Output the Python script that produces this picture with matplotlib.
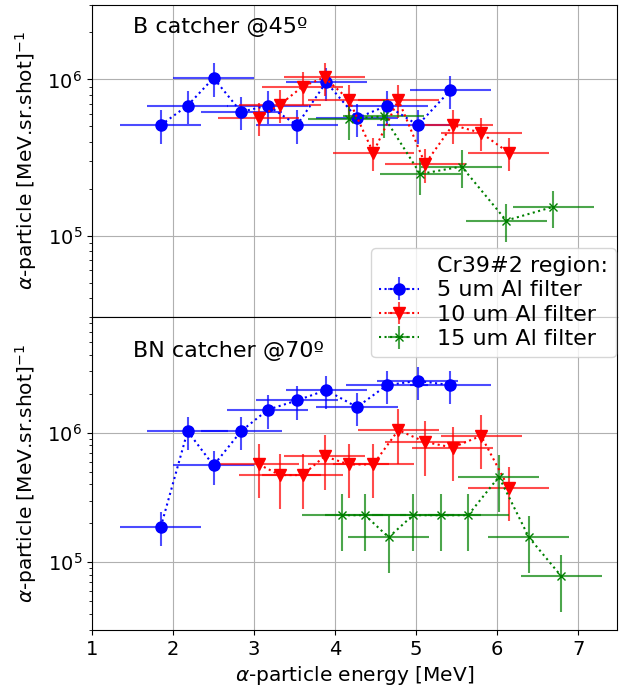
import matplotlib
matplotlib.use("Agg")
import matplotlib.pyplot as plt
import numpy as np

# energies [MeV]
blue_x = [1.85, 2.18, 2.50, 2.84, 3.17, 3.53, 3.89, 4.27, 4.64, 5.02, 5.42]
red_x = [3.06, 3.32, 3.60, 3.87, 4.17, 4.47, 4.78, 5.11, 5.45, 5.80, 6.14]
top_green_x = [4.17, 4.60, 5.05, 5.56, 6.11, 6.69]
bot_green_x = [4.09, 4.37, 4.66, 4.96, 5.30, 5.64, 6.02, 6.39, 6.79]

# B catcher @45
top_blue_y = [5.1e5, 6.8e5, 1.02e6, 6.2e5, 6.8e5, 5.1e5, 9.6e5, 5.65e5, 6.8e5, 5.1e5, 8.5e5]
top_red_y = [5.7e5, 6.9e5, 9.0e5, 1.03e6, 7.4e5, 3.4e5, 7.4e5, 2.88e5, 5.1e5, 4.55e5, 3.4e5]
top_green_y = [5.6e5, 5.8e5, 2.48e5, 2.77e5, 1.25e5, 1.53e5]

# BN catcher @70
bot_blue_y = [1.88e5, 1.03e6, 5.6e5, 1.03e6, 1.51e6, 1.78e6, 2.14e6, 1.58e6, 2.34e6, 2.52e6, 2.34e6]
bot_red_y = [5.7e5, 4.72e5, 4.72e5, 6.6e5, 5.7e5, 5.7e5, 1.05e6, 8.5e5, 7.7e5, 9.5e5, 3.77e5]
bot_green_y = [2.31e5, 2.31e5, 1.56e5, 2.31e5, 2.31e5, 2.31e5, 4.58e5, 1.56e5, 7.8e4]

# half bin width and relative errors
x_halfwidth = 0.5
top_rel_err = {"blue": 0.24, "red": 0.24, "green": 0.27}
bot_rel_err = {"blue": 0.29, "red": 0.45, "green": 0.47}

labels = ["5 um Al filter", "10 um Al filter", "15 um Al filter"]
styles = {"blue": dict(marker="o", ms=8), "red": dict(marker="v", ms=8), "green": dict(marker="x", ms=6)}

plt.rcParams["font.size"] = 14

fig, (ax1, ax2) = plt.subplots(2, 1, sharex=True, figsize=(6.21, 6.87), dpi=100)
fig.subplots_adjust(left=0.148, right=0.994, top=0.993, bottom=0.083, hspace=0)


def draw(ax, series, rel):
    handles = []
    for (name, x, y), lab in zip(series, labels):
        y = np.array(y)
        eb = ax.errorbar(x, y, xerr=x_halfwidth, yerr=rel[name] * y, fmt=":",
                         color=name, lw=1.5, elinewidth=1.5, **styles[name])
        for c in eb[2]:
            c.set_alpha(0.7)
        handles.append(eb)
    return handles


handles = draw(ax1, [("blue", blue_x, top_blue_y), ("red", red_x, top_red_y),
                     ("green", top_green_x, top_green_y)], top_rel_err)
draw(ax2, [("blue", blue_x, bot_blue_y), ("red", red_x, bot_red_y),
           ("green", bot_green_x, bot_green_y)], bot_rel_err)

for ax in (ax1, ax2):
    ax.set_yscale("log")
    ax.grid(True, which="major", color="#b0b0b0", lw=0.8)
    ax.set_ylabel(r"$\alpha$-particle [MeV.sr.shot]$^{-1}$", fontsize=14.5, labelpad=6)

ax1.set_ylim(3e4, 3e6)
ax2.set_ylim(3e4, 7.8e6)
ax2.set_xlim(1, 7.48)
ax2.set_xlabel(r"$\alpha$-particle energy [MeV]", fontsize=14.5)

ax1.text(0.078, 0.928, "B catcher @45º", transform=ax1.transAxes, va="center", fontsize=16)
ax2.text(0.078, 0.893, "BN catcher @70º", transform=ax2.transAxes, va="center", fontsize=16)

title_handle, = ax1.plot([], [], " ")
fig.legend([title_handle] + handles, ["Cr39#2 region:"] + labels,
           loc="upper left", bbox_to_anchor=(0.58, 0.655), fontsize=16,
           handlelength=1.8, labelspacing=0.2, borderpad=0.35)

plt.savefig("out.png", dpi=100)
